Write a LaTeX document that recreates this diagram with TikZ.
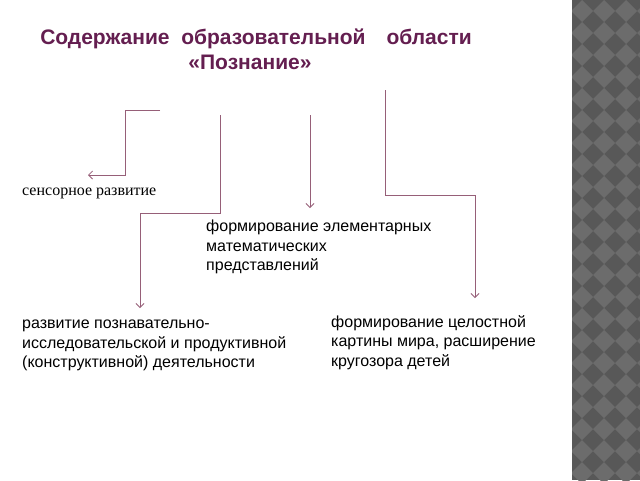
\documentclass[tikz,border=0pt]{standalone}
\usepackage{fontspec}
\setmainfont{Liberation Serif}
\setsansfont{Liberation Sans}
\usetikzlibrary{arrows.meta}
\definecolor{conn}{RGB}{150,95,120}
\definecolor{ttl}{RGB}{100,30,80}
\definecolor{stripeA}{RGB}{88,88,88}
\definecolor{stripeB}{RGB}{108,108,108}
\begin{document}
\begin{tikzpicture}[x=1pt,y=-1pt,
  link/.style={draw=conn,line width=0.8pt,-{Straight Barb[length=4pt,width=8pt]}},
  lbl/.style={font=\sffamily\fontsize{16}{19.5}\selectfont,align=left,anchor=north west,inner sep=0pt},
  ttlstyle/.style={font=\sffamily\bfseries\fontsize{21}{24}\selectfont,text=ttl,align=center}]
\useasboundingbox (0,0) rectangle (640,480);
\fill[white] (0,0) rectangle (640,480);
% decorative stripe
\begin{scope}
\clip (571,0) rectangle (640,480);
\fill[stripeA] (571,0) rectangle (640,480);
\foreach \i in {-1,...,22}{
  \foreach \j in {0,1,2,3}{
    \fill[stripeB] ({571+\j*22},{\i*22+11}) -- ++(11,-11) -- ++(11,11) -- ++(-11,11) -- cycle;
  }}
\end{scope}
\draw[white,line width=1pt] (571,0) -- (571,480);
% title
\node[ttlstyle] (t1) at (256,39) {Содержание\ \ образовательной\quad области};
\node[ttlstyle] (t2) at (250,62) {«Познание»};
% labels
\node[font=\fontsize{16}{19}\selectfont,anchor=west,inner sep=0pt] (s) at (22,193) {сенсорное развитие};
\node[lbl] (m) at (206,220) {формирование элементарных\\математических\\представлений};
\node[lbl] (r) at (22,320) {развитие познавательно-\\исследовательской и продуктивной\\(конструктивной) деятельности};
\node[lbl] (w) at (331,315) {формирование целостной\\картины мира, расширение\\кругозора детей};
% connector ends
\coordinate (a1) at (160,110); \coordinate (a2) at (88,175);
\coordinate (b1) at (220,115); \coordinate (b2) at (140,308);
\coordinate (c1) at (310,115); \coordinate (c2) at (310,208);
\coordinate (d1) at (385,90);  \coordinate (d2) at (475,298);
\draw[link] (a1) -- (125,110) -- (125,175) -- (a2);
\draw[link] (b1) -- (220,213) -- (140,213) -- (b2);
\draw[link] (c1) -- (c2);
\draw[link] (d1) -- (385,195) -- (475,195) -- (d2);
\end{tikzpicture}
\end{document}
